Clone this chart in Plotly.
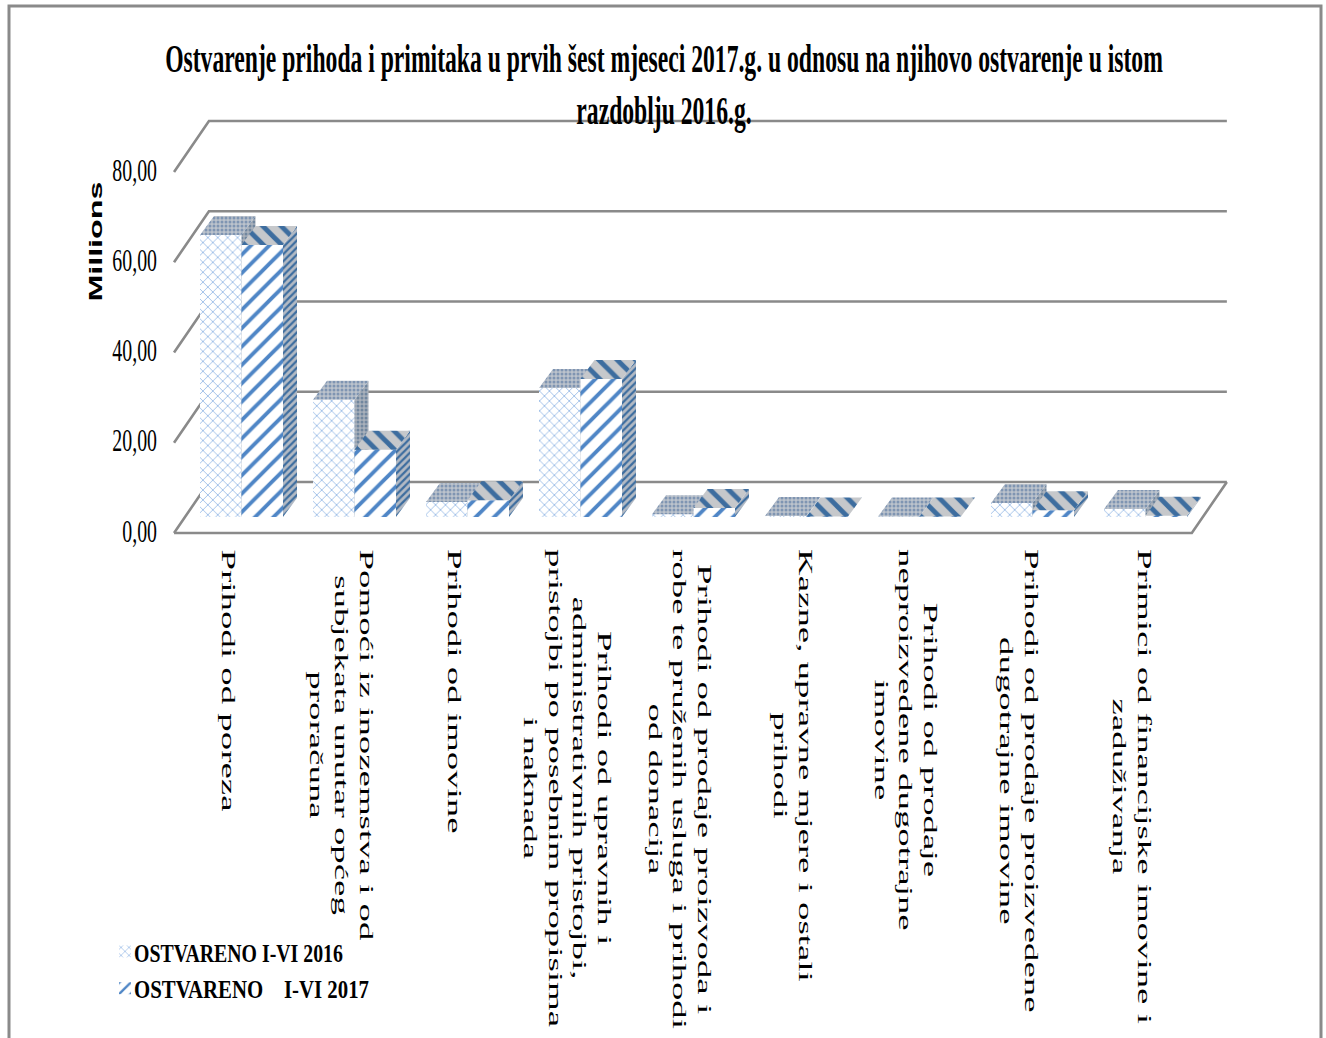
import plotly.graph_objects as go

# ---------- data ----------
categories = [
    "Prihodi od poreza",
    "Pomoći iz inozemstva i od<br>subjekata unutar općeg<br>proračuna",
    "Prihodi od imovine",
    "Prihodi od upravnih i<br>administrativnih pristojbi,<br>pristojbi po posebnim propisima<br>i naknada",
    "Prihodi od prodaje proizvoda i<br>robe te pruženih usluga i prihodi<br>od donacija",
    "Kazne, upravne mjere i ostali<br>prihodi",
    "Prihodi od prodaje<br>neproizvedene dugotrajne<br>imovine",
    "Prihodi od prodaje proizvedene<br>dugotrajne imovine",
    "Primici od financijske imovine i<br>zaduživanja",
]
values_2016 = [62.5, 26.0, 3.3, 28.6, 0.6, 0.2, 0.1, 3.1, 1.8]
values_2017 = [60.3, 14.9, 3.7, 30.6, 2.0, 0.1, 0.1, 1.5, 0.3]
name_2016 = "OSTVARENO I-VI 2016"
name_2017 = "OSTVARENO\u00a0\u00a0\u00a0\u00a0I-VI 2017"
tick_vals = [0, 20, 40, 60, 80]
tick_text = ["0,00", "20,00", "40,00", "60,00", "80,00"]
title_text = ("<b>Ostvarenje prihoda i primitaka u prvih šest mjeseci 2017.g. u odnosu na njihovo "
              "ostvarenje u istom<br>razdoblju 2016.g.</b>")

# ---------- geometry ----------
W, H = 1326, 1038
CAT0_PX, CAT_STEP_PX = 241.5, 113.0
PX_PER_UNIT = 4.5125
BAR_W = 41.5 / CAT_STEP_PX
DX = 14 / CAT_STEP_PX          # bar depth, x units
DY = 19 / PX_PER_UNIT          # bar depth, value units
x_range = [-CAT0_PX / CAT_STEP_PX, (W - CAT0_PX) / CAT_STEP_PX]
def y_range(zero_px):
    return [(zero_px - H) / PX_PER_UNIT, zero_px / PX_PER_UNIT]

positions = list(range(len(categories)))

GREY = "#8a8a8a"
fig = go.Figure()

# frame: back wall lines, left diagonals, floor
FL, BL, BR, FR = -0.597, -0.288, 8.72, 8.41
F_OFF, B_OFF = -0.55, 10.75
wx, wy = [], []
for t in tick_vals:
    wx += [FL, BL, BR, None]
    wy += [t + F_OFF, t + B_OFF, t + B_OFF, None]
wx += [FL, FR, BR, None]
wy += [F_OFF, F_OFF, B_OFF, None]
fig.add_trace(go.Scatter(x=wx, y=wy, mode="lines", line=dict(color=GREY, width=2.6),
                         hoverinfo="skip", showlegend=False, xaxis="x", yaxis="y"))


def faces(values, left_off):
    top_x, top_y, side_x, side_y = [], [], [], []
    for p, v in zip(positions, values):
        l = p + left_off
        r = l + BAR_W
        top_x += [l, r, r + DX, l + DX, l, None]
        top_y += [v, v, v + DY, v + DY, v, None]
        side_x += [r, r + DX, r + DX, r, r, None]
        side_y += [0, DY, v + DY, v, 0, None]
    return top_x, top_y, side_x, side_y


def add_series(values, name, left_off, axis, bar_pat, top_pat, side_pat):
    fig.add_trace(go.Bar(x=positions, y=values, name=name, width=BAR_W, offset=left_off,
                         marker=dict(color="white", line=dict(width=0), pattern=bar_pat),
                         xaxis="x", yaxis=axis))
    tx, ty, sx, sy = faces(values, left_off)
    for fx, fy, pat in ((sx, sy, side_pat), (tx, ty, top_pat)):
        fig.add_trace(go.Scatter(x=fx, y=fy, mode="lines", line=dict(width=0), fill="toself",
                                 fillcolor=pat["bgcolor"], fillpattern=pat, hoverinfo="skip",
                                 showlegend=False, xaxis="x", yaxis=axis))


add_series(values_2016, name_2016, -BAR_W, "y2",
           dict(shape="x", fgcolor="#86aee2", bgcolor="white", size=7, solidity=0.2, fgopacity=1),
           dict(shape=".", fgcolor="#7f95b2", bgcolor="#bcc3cc", size=4, solidity=0.45, fgopacity=1),
           dict(shape=".", fgcolor="#71879f", bgcolor="#a9b1bb", size=4, solidity=0.45, fgopacity=1))
add_series(values_2017, name_2017, 0, "y3",
           dict(shape="/", fgcolor="#4f86c6", bgcolor="white", size=13, solidity=0.3, fgopacity=1),
           dict(shape="\\", fgcolor="#3d6d9f", bgcolor="#c6c8cb", size=13, solidity=0.38, fgopacity=1),
           dict(shape="/", fgcolor="#3d6d9f", bgcolor="#b3bac4", size=5, solidity=0.45, fgopacity=1))

annotations = [
    dict(text=c, x=p - 13 / CAT_STEP_PX, y=(517 - 547) / PX_PER_UNIT, xref="x", yref="y2",
         xanchor="center", yanchor="top", textangle=90, showarrow=False, align="center",
         font=dict(family="Liberation Serif", size=19, color="black"))
    for p, c in zip(positions, categories)
]
annotations.append(dict(text="<b>Millions</b>", x=95 / W, y=1 - 242 / H, xref="paper", yref="paper",
                        xanchor="center", yanchor="middle", textangle=-90, showarrow=False,
                        font=dict(family="Liberation Sans", size=19, color="black")))

fig.update_layout(
    width=W, height=H, autosize=False,
    margin=dict(l=0, r=0, t=0, b=0, pad=0),
    paper_bgcolor="white", plot_bgcolor="white",
    barmode="overlay",
    title=dict(text=title_text, x=664 / W, xanchor="center", y=1 - 72 / H, yanchor="top", yref="container",
               font=dict(family="Liberation Serif", size=40, color="black")),
    xaxis=dict(range=x_range, visible=False, domain=[0, 1], fixedrange=True),
    yaxis=dict(range=y_range(530.5), anchor="free", position=157 / W, showgrid=False, zeroline=False,
               showline=False, ticks="", tickmode="array", tickvals=tick_vals, ticktext=tick_text,
               tickfont=dict(family="Liberation Serif", size=32, color="black"), fixedrange=True),
    yaxis2=dict(range=y_range(517), overlaying="y", visible=False, fixedrange=True),
    yaxis3=dict(range=y_range(517), overlaying="y", visible=False, fixedrange=True),
    legend=dict(x=105 / W, y=1 - 928 / H, xanchor="left", yanchor="top", bgcolor="rgba(0,0,0,0)",
                font=dict(family="Liberation Serif", size=26, color="black", weight=700),
                traceorder="normal", itemwidth=30),
    annotations=annotations,
    shapes=[dict(type="path", xref="paper", yref="paper",
                 path=f"M {9/W} 0 L {9/W} {1-6/H} L {1321/W} {1-6/H} L {1321/W} 0",
                 line=dict(color=GREY, width=3))],
)

post = """
document.body.style.margin = '0';
document.documentElement.style.overflow = 'hidden';
var gd = document.getElementById('{plot_id}');
function stretch(el, kx, ky, anchor, shift) {
  var b = el.getBBox();
  var ax = anchor === 'left' ? b.x : anchor === 'right' ? b.x + b.width : b.x + b.width / 2;
  var ay = b.y + b.height / 2;
  var old = el.getAttribute('transform') || '';
  el.setAttribute('transform', old + ' translate(' + (ax + (shift || 0)) + ',' + ay + ') scale(' + kx + ',' + ky + ') translate(' + (-ax) + ',' + (-ay) + ')');
}
function fit(el, w) { return w / el.getBBox().width; }
var t = gd.querySelector('.gtitle');
if (t) stretch(t, fit(t, 998), 1, 'center');
gd.querySelectorAll('.ytick text').forEach(function (e) { stretch(e, 0.62, 1, 'right'); });
var legendWidths = [209, 235];
gd.querySelectorAll('.legendtext').forEach(function (e, i) { stretch(e, fit(e, legendWidths[i]), 1, 'left', -11); });
gd.querySelectorAll('.annotation-text').forEach(function (e) {
  if (e.textContent.indexOf('Millions') >= 0) stretch(e, fit(e, 120), 1, 'center');
  else stretch(e, 1.94, 1, 'left');
});
"""
fig.write_html("out.html", post_script=post, config=dict(displayModeBar=False))
